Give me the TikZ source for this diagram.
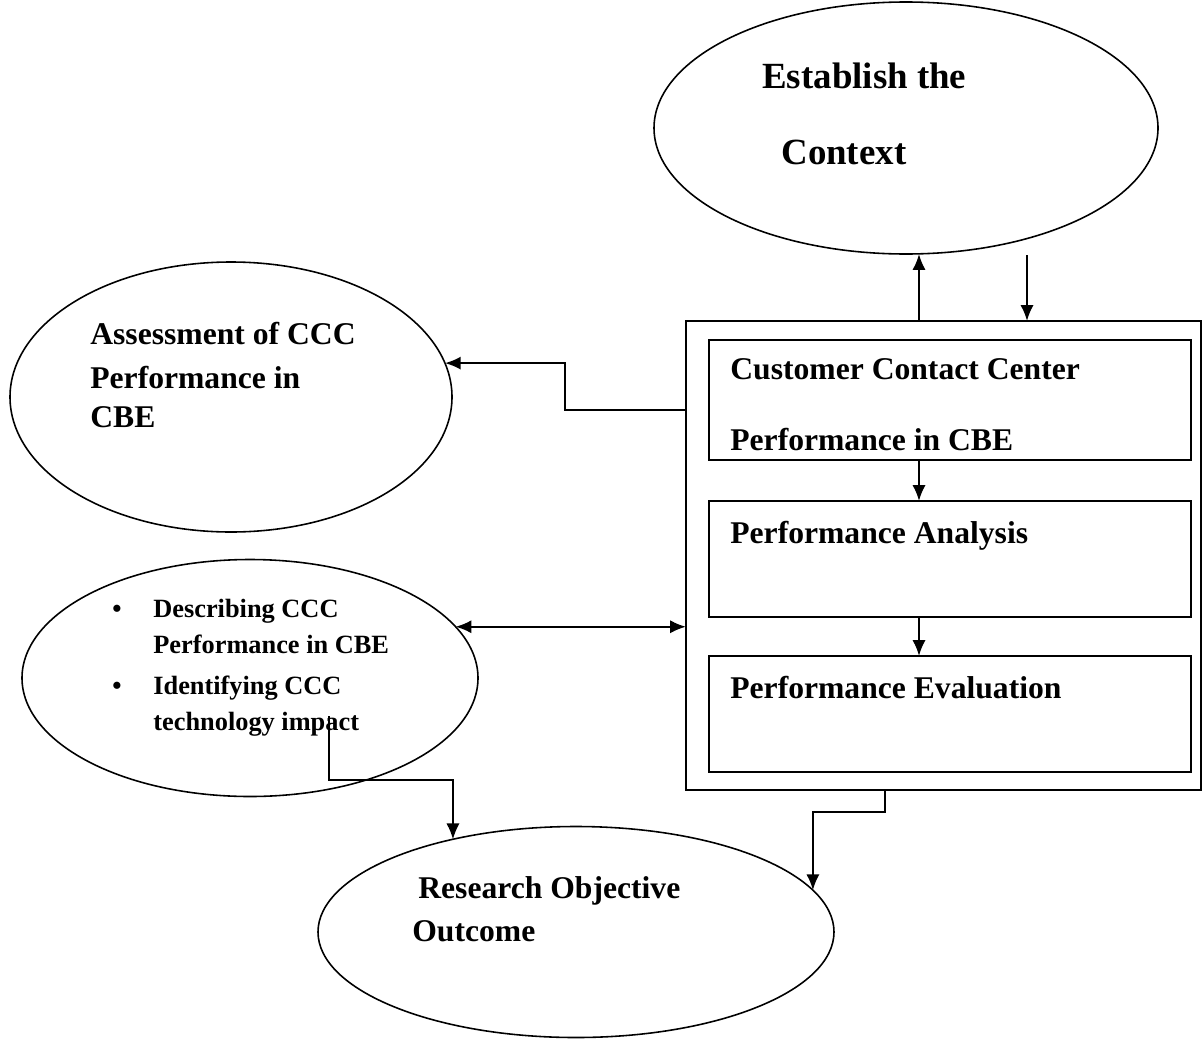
\documentclass[tikz,border=0pt]{standalone}
\usepackage{fontspec}
\setmainfont{Liberation Serif}
\usepackage{tikz}
\usetikzlibrary{arrows.meta, calc, shapes.geometric}

\def\pxu{0.02cm}
\tikzset{
  oval/.style={draw, ellipse, line width=0.9pt, inner sep=0pt, outer sep=0pt},
  frame/.style={draw, rectangle, line width=1.3pt, inner sep=0pt, outer sep=0pt},
  txt/.style={anchor=base west, inner sep=0pt, font=\fontsize{18}{21}\selectfont\bfseries},
  bigtxt/.style={txt, font=\fontsize{21}{25}\selectfont\bfseries},
  smalltxt/.style={txt, font=\fontsize{15}{18}\selectfont\bfseries},
  link/.style={line width=1.2pt},
}

\begin{document}
\begin{tikzpicture}[x=0.02cm, y=-0.02cm, >={Latex[length=9pt,width=7.5pt]}]
  \useasboundingbox (0,0) rectangle (1203,1041);

  % Ellipses
  \node[oval, minimum width=504*\pxu, minimum height=252*\pxu] (ctx) at (906,128) {};
  \node[oval, minimum width=442*\pxu, minimum height=270*\pxu] (assess) at (231,397) {};
  \node[oval, minimum width=456*\pxu, minimum height=237*\pxu] (describe) at (250,678) {};
  \node[oval, minimum width=516*\pxu, minimum height=211*\pxu] (outcome) at (576,932) {};

  % Boxes
  \node[frame, minimum width=515*\pxu, minimum height=469*\pxu] (outer) at (943.5,555.5) {};
  \node[frame, minimum width=482*\pxu, minimum height=120*\pxu] (ccc) at (950,400) {};
  \node[frame, minimum width=482*\pxu, minimum height=116*\pxu] (analysis) at (950,559) {};
  \node[frame, minimum width=482*\pxu, minimum height=116*\pxu] (evaluation) at (950,714) {};

  % Labels
  \node[bigtxt] (est) at (762,88) {Establish the};
  \node[bigtxt] (cont) at (781,164) {Context};
  \node[txt] (as1) at (90,344) {Assessment of CCC};
  \node[txt] (as2) at (90,388) {Performance in};
  \node[txt] (as3) at (90,427) {CBE};
  \node[txt] (cc1) at (730,379) {Customer Contact Center};
  \node[txt] (cc2) at (730,450) {Performance in CBE};
  \node[txt] (pa) at (730,543) {Performance Analysis};
  \node[txt] (pe) at (730,698) {Performance Evaluation};
  \node[txt] (ro1) at (418,898) {Research Objective};
  \node[txt] (ro2) at (412,941) {Outcome};
  \node[smalltxt] (b1) at (112,617) {\textbullet};
  \node[smalltxt] (d1) at (153,617) {Describing CCC};
  \node[smalltxt] (d2) at (153,653) {Performance in CBE};
  \node[smalltxt] (b2) at (112,694) {\textbullet};
  \node[smalltxt] (d3) at (153,694) {Identifying CCC};
  \node[smalltxt] (d4) at (153,730) {technology impact};

  % Connectors
  \coordinate (upx) at (919,0);
  \coordinate (fb) at (1027,255);
  \coordinate (lk) at (565,410);
  \coordinate (imp) at (329,716);
  \coordinate (dnx) at (885,0);

  \draw[link, ->] (outer.north -| upx) -- (ctx.south -| upx);
  \draw[link, ->] (fb) -- (fb |- outer.north);
  \draw[link, ->] (ccc.south -| upx) -- (analysis.north -| upx);
  \draw[link, ->] (analysis.south -| upx) -- (evaluation.north -| upx);
  \draw[link, ->] (outer.west |- lk) -| (lk |- assess.9.31) -- (assess.9.31);
  \draw[link, <->] (describe.14.57) -- (describe.14.57 -| outer.west);
  \draw[line width=0.9pt, ->] (imp) -- ++(0,64) -| (outcome.143);
  \draw[link, ->] (outer.south -| dnx) -- ++(0,22) -| (outcome.10.2);
\end{tikzpicture}
\end{document}
